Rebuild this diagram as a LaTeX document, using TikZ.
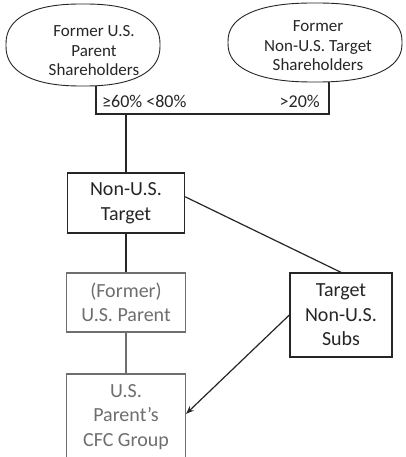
\documentclass[tikz,border=0pt]{standalone}
\usepackage{fontspec}
\setmainfont{Carlito}
\usetikzlibrary{arrows.meta,calc}
\definecolor{ink}{HTML}{262626}
\definecolor{soft}{HTML}{6E6E6E}
% slightly squared oval outline: centre x, centre y, half width, half height
\newcommand\ovaloutline[4]{%
  \draw[ink,line width=0.9pt] plot[domain=0:357,samples=120,smooth cycle]
    ({#1+#3*sign(cos(\x))*pow(abs(cos(\x))+0.00001,0.833)},
     {#2+#4*sign(sin(\x))*pow(abs(sin(\x))+0.00001,0.833)});}
\begin{document}
\begin{tikzpicture}[x=1pt,y=-1pt,
  holdertext/.style={text=ink,inner sep=0pt,align=center,
    font=\fontsize{17}{19.5}\selectfont},
  entity/.style={rectangle,draw=ink,line width=1.3pt,text=ink,inner sep=0pt,
    align=center,font=\fontsize{20}{24.5}\selectfont},
  former/.style={entity,draw=soft,line width=1.1pt,text=soft},
  link/.style={draw=ink,line width=1.2pt},
  pct/.style={inner sep=0pt,text=ink,font=\fontsize{18}{20}\selectfont}]
\clip (0,0) rectangle (405,457);
\fill[white] (0,0) rectangle (405,457);

% shareholder groups
\ovaloutline{83}{45}{77}{41}
\node[holdertext] (lsht) at (94,51) {Former U.S.\\Parent\\Shareholders};
\ovaloutline{315}{42.5}{87}{39.5}
\node[holdertext] (rsht) at (318,46) {Former\\Non-U.S. Target\\Shareholders};

% ownership bracket
\coordinate (lb) at (96,86);
\coordinate (rb) at (329,82);
\coordinate (bl) at (96,114);
\coordinate (br) at (329,114);
\coordinate (bm) at (126,114);
\draw[link] (lb) -- (bl) -- (br) -- (rb);
\node[pct,anchor=west] (p1) at (102,101) {≥60\% <80\%};
\node[pct,anchor=east] (p2) at (320,101) {>20\%};

% entities
\node[entity,minimum width=117pt,minimum height=60pt] (tgt) at (126,203)
  {Non-U.S.\\Target};
\node[former,minimum width=119pt,minimum height=59pt] (par) at (126,302.5)
  {(Former)\\U.S. Parent};
\node[former,minimum width=119pt,minimum height=86pt] (cfc) at (126,417)
  {U.S.\\Parent’s\\CFC Group};
\node[entity,minimum width=102pt,minimum height=84pt] (subs) at (341,315)
  {Target\\Non-U.S.\\Subs};

% connectors
\draw[link] (bm) -- (bm |- tgt.north);
\draw[link] (tgt.south) -- (par.north);
\draw[link,draw=soft] (par.south) -- (cfc.north);
\draw[link] (tgt.6) -- (subs.north);
\draw[link,-{Stealth[length=8pt,width=6pt]}] (subs.west) -- (cfc.3);
\end{tikzpicture}
\end{document}
